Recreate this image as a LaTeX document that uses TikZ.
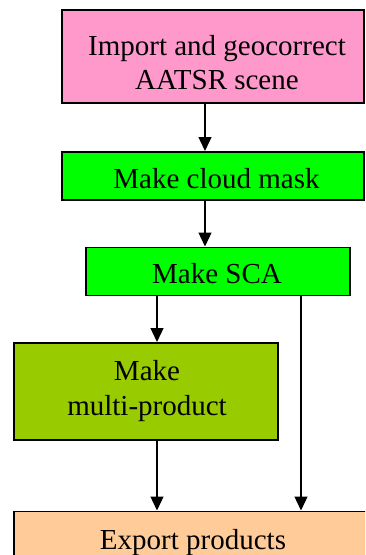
\documentclass[tikz,border=0pt]{standalone}
\usepackage{fontspec}
\setmainfont{Liberation Serif}
\usetikzlibrary{arrows.meta}
\definecolor{boxpink}{HTML}{FF99CC}
\definecolor{boxgreen}{HTML}{00FF00}
\definecolor{boxolive}{HTML}{99CC00}
\definecolor{boxpeach}{HTML}{FFCC99}
\tikzset{
  stepbox/.style={draw=black, line width=1.6pt, rectangle, inner sep=0pt, anchor=north west},
  lbl/.style={inner sep=0pt, anchor=base, align=center, font=\fontsize{29}{34.2}\selectfont},
  arr/.style={line width=1.3pt, -{Triangle[width=13pt,length=14pt]}},
}
\begin{document}
\begin{tikzpicture}[x=1pt,y=-1pt]
\useasboundingbox (0,0) rectangle (365,555);
\clip (0,0) rectangle (365,555);
\node[stepbox, fill=boxpink, minimum width=302pt, minimum height=93pt] (imp) at (61,9) {};
\node[stepbox, fill=boxgreen, minimum width=302pt, minimum height=48pt] (cld) at (61,151) {};
\node[stepbox, fill=boxgreen, minimum width=264pt, minimum height=48pt] (sca) at (85,246.5) {};
\node[stepbox, fill=boxolive, minimum width=264pt, minimum height=97pt] (mul) at (13,342) {};
\node[stepbox, fill=boxpeach, minimum width=400pt, minimum height=100pt] (exp) at (13,510.5) {};
\node[lbl] (impt) at (217,89.3) {Import and geocorrect\\AATSR scene};
\node[lbl] (cldt) at (216.5,188) {Make cloud mask};
\node[lbl] (scat) at (217,283) {Make SCA};
\node[lbl] (mult) at (147,415) {Make\\multi-product};
\node[lbl] (expt) at (193,549) {Export products};
\coordinate (xa) at (205,0);
\coordinate (xb) at (157,0);
\coordinate (xc) at (301,0);
\draw[arr] (imp.south -| xa) -- (cld.north -| xa);
\draw[arr] (cld.south -| xa) -- (sca.north -| xa);
\draw[arr] (sca.south -| xb) -- (mul.north -| xb);
\draw[arr] (mul.south -| xb) -- (exp.north -| xb);
\draw[arr] (sca.south -| xc) -- (exp.north -| xc);
\end{tikzpicture}
\end{document}
